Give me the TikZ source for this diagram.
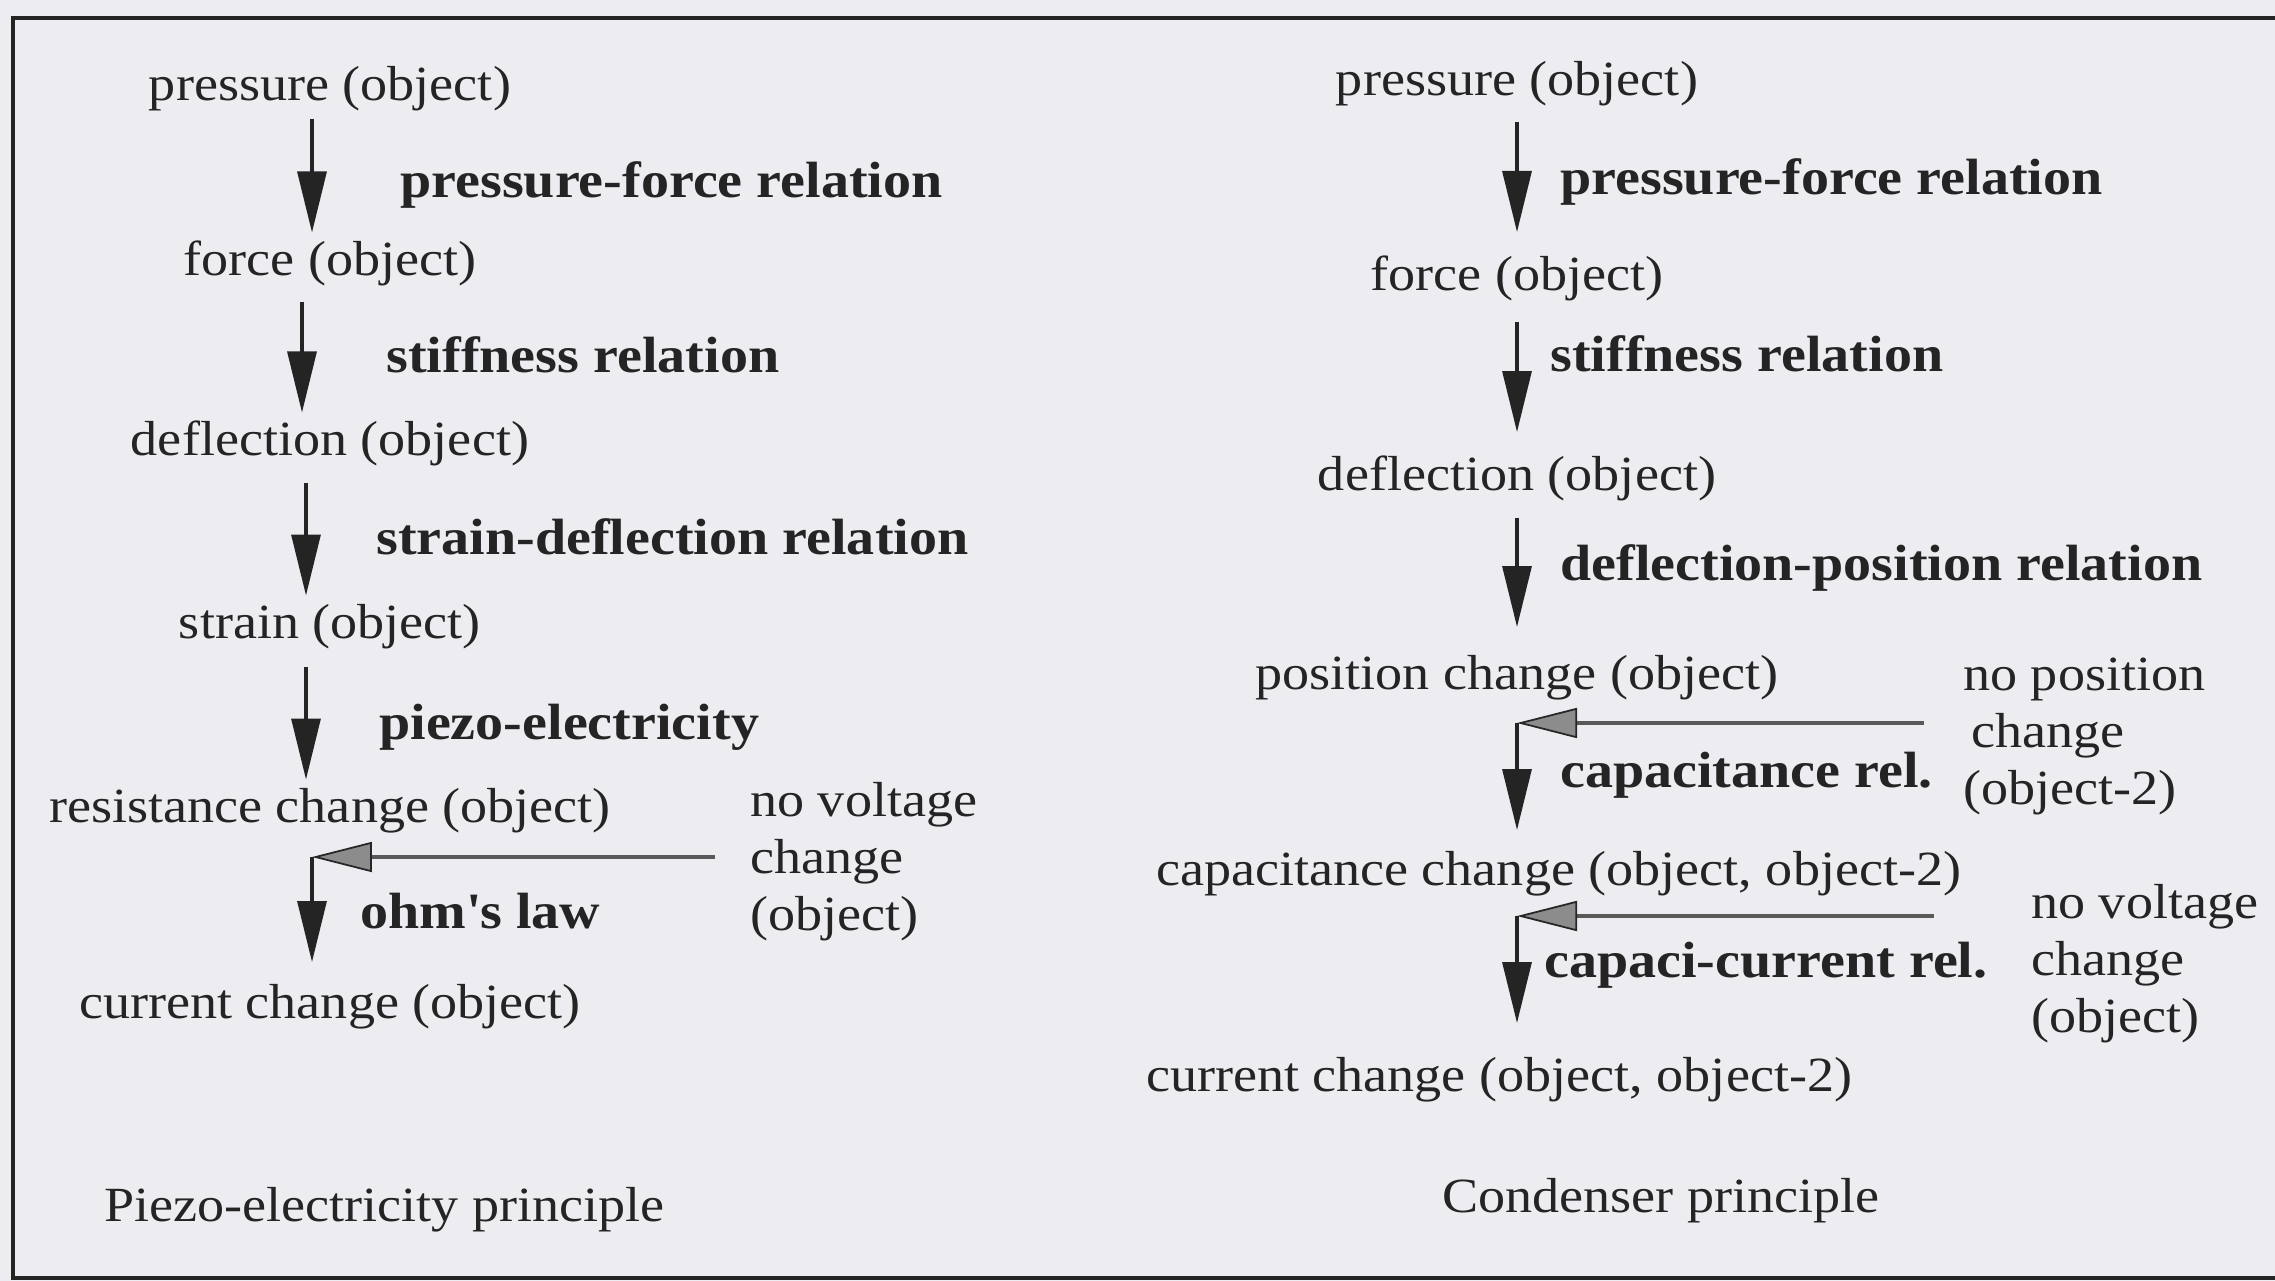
\documentclass[tikz,border=0pt]{standalone}
\usepackage{fontspec}
\setmainfont{Liberation Serif}[FakeStretch=1.1]
\usetikzlibrary{arrows.meta}
\definecolor{paper}{HTML}{EDECF1}
\definecolor{ink}{HTML}{242424}
% straight apostrophe, taken as a glyph so the TeX quote mapping leaves it alone
\newcommand{\straightquote}{\XeTeXglyph\the\XeTeXglyphindex "quotesingle"\relax}
\begin{document}
\begin{tikzpicture}[x=0.02cm,y=-0.02cm,
  every node/.style={text=ink, font=\fontsize{28}{32.4}\selectfont},
  state/.style={anchor=base, inner xsep=0pt, inner ysep=4pt, outer sep=0pt,
    text height=20.2pt, text depth=6.2pt},
  lstate/.style={state, anchor=base west},
  relation/.style={anchor=base west, inner sep=0pt,
    font=\fontsize{29}{33}\selectfont\bfseries},
  cond/.style={anchor=north west, align=left, inner sep=0pt},
  caption/.style={inner sep=0pt},
  varrow/.style={draw=ink, line width=1.8pt,
    -{Triangle[length=1.22cm,width=0.58cm]}},
  harrow/.style={draw=black!65, line width=2.8pt,
    -{Triangle[length=1.2cm,width=0.6cm,fill=black!45,color=black!85,line width=1pt]}}
]
% page and frame
\fill[paper] (0,0) rectangle (2275,1281);
\useasboundingbox (0,0) rectangle (2275,1281);
\draw[ink, line width=2pt] (2290,18) -- (13,18) -- (13,1278) -- (2290,1278);

% ---------- piezo-electricity chain ----------
\node[state] (p1)  at (330,100)  {pressure (object)};
\node[state] (f1)  at (330,275)  {force (object)};
\node[state] (d1)  at (330,455)  {deflection (object)};
\node[state] (s1)  at (330,638)  {strain (object)};
\node[state] (r1)  at (330,822)  {resistance change (object)};
\node[state] (cc1) at (330,1018) {current change (object)};

\node[relation] (l1a) at (400,197) {pressure-force relation};
\node[relation] (l1b) at (386,372) {stiffness relation};
\node[relation] (l1c) at (376,554) {strain-deflection relation};
\node[relation] (l1d) at (379,739) {piezo-electricity};
\node[relation] (l1e) at (360,928) {ohm\straightquote s law};

\node[cond] (nv1) at (750,782) {no voltage\\change\\(object)};
\node[caption, anchor=base west] (t1) at (104,1221) {Piezo-electricity principle};

\draw[varrow, shorten <=0.02cm] ([xshift=-0.36cm]p1.south) -- ([xshift=-0.36cm]f1.north);
\draw[varrow, shorten <=0.18cm] ([xshift=-0.56cm]f1.south) -- ([xshift=-0.56cm]d1.north);
\draw[varrow, shorten <=0.20cm] ([xshift=-0.48cm]d1.south) -- ([xshift=-0.48cm]s1.north);
\draw[varrow, shorten <=0.22cm] ([xshift=-0.48cm]s1.south) -- ([xshift=-0.48cm]r1.north);

\coordinate (c1) at (312,857);
\coordinate (e1) at (715,857);
\draw[harrow] (e1) -- (c1);
\draw[varrow, shorten >=0.27cm] (c1) -- (c1 |- cc1.north);

% ---------- condenser chain ----------
\node[state] (p2)  at (1517,95)  {pressure (object)};
\node[state] (f2)  at (1517,290) {force (object)};
\node[state] (d2)  at (1517,490) {deflection (object)};
\node[state] (pc2) at (1517,689) {position change (object)};
\node[lstate] (cap2) at (1156,885)  {capacitance change (object, object-2)};
\node[lstate] (cur2) at (1146,1091) {current change (object, object-2)};

\node[relation] (l2a) at (1560,194) {pressure-force relation};
\node[relation] (l2b) at (1550,371) {stiffness relation};
\node[relation] (l2c) at (1560,580) {deflection-position relation};
\node[relation] (l2d) at (1560,787) {capacitance rel.};
\node[relation] (l2e) at (1544,977) {capaci-current rel.};

\node[cond] (np2) at (1963,658) {no position\\\,change\\(object-2)};
\node[cond] (nv2) at (2031,884) {no voltage\\change\\(object)};
\node[caption, anchor=base] (t2) at (1661,1212) {Condenser principle};

\draw[varrow, shorten <=0.18cm, shorten >=0.31cm] (p2.south) -- (f2.north);
\draw[varrow, shorten <=0.28cm, shorten >=0.31cm] (f2.south) -- (d2.north);
\draw[varrow, shorten <=0.20cm, shorten >=0.39cm] (d2.south) -- (pc2.north);

\coordinate (c2) at (1517,723);
\coordinate (e2) at (1924,723);
\draw[harrow] (e2) -- (c2);
\draw[varrow, shorten >=0.25cm] (c2) -- (c2 |- cap2.north);

\coordinate (c3) at (1517,916);
\coordinate (e3) at (1934,916);
\draw[harrow] (e3) -- (c3);
\draw[varrow, shorten >=0.51cm] (c3) -- (c3 |- cur2.north);
\end{tikzpicture}
\end{document}
